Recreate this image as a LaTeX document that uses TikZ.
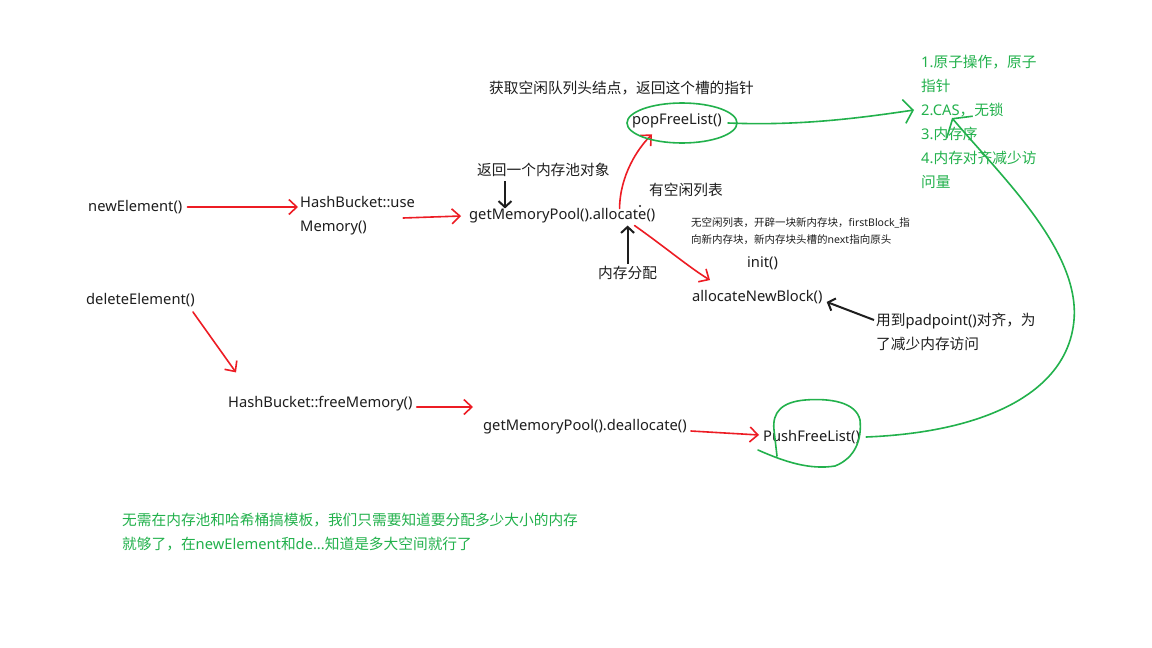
\documentclass[tikz,border=0pt]{standalone}
\usepackage{fontspec}
\setmainfont{Noto Sans}
\newfontfamily\cjk{Noto Sans CJK SC}
\usetikzlibrary{arrows.meta}
\definecolor{ink}{RGB}{30,30,30}
\definecolor{paintred}{RGB}{237,28,36}
\definecolor{paintgreen}{RGB}{34,177,76}
\newcommand{\zh}[1]{{\cjk #1}}

\begin{document}
\begin{tikzpicture}[x=1pt, y=-1pt,
    lbl/.style={anchor=west, inner sep=2pt, text=ink, align=left, font=\fontsize{14.7}{24}\selectfont},
    note/.style={lbl, font=\fontsize{10.5}{17}\selectfont},
    gnote/.style={lbl, text=paintgreen},
    redarr/.style={paintred, line width=1.6pt, line cap=round, -{Straight Barb[length=8pt, width=15pt]}},
    blkarr/.style={ink, line width=2pt, -{Straight Barb[length=6pt, width=13pt]}},
    grn/.style={paintgreen, line width=1.6pt, line cap=round}]
    \fill[white] (0,0) rectangle (1152,648);
    \useasboundingbox (0,0) rectangle (1152,648);

    % allocation side
    \node[lbl] (getfree) at (487,88) {\zh{获取空闲队列头结点，返回这个槽的指针}};
    \node[lbl] (pop) at (630,121) {popFreeList()};
    \node[lbl] (retpool) at (475,170) {\zh{返回一个内存池对象}};
    \node[lbl] (newel) at (86,207) {newElement()};
    \node[lbl] (hbuse) at (298,216) {HashBucket::use\\Memory()};
    \node[lbl] (alloc) at (467,216) {getMemoryPool().allocate()};
    \node[lbl] (hasfree) at (647,190) {\zh{有空闲列表}};
    \node[lbl] (memalloc) at (596,273) {\zh{内存分配}};
    \node[note] (nofree) at (689,231) {\zh{无空闲列表，开辟一块新内存块，}firstBlock\_\zh{指}\\\zh{向新内存块，新内存块头槽的}next\zh{指向原头}};
    \node[lbl] (init) at (745,263) {init()};
    \node[lbl] (newblock) at (690,297) {allocateNewBlock()};
    \node[lbl] (padnote) at (874,332) {\zh{用到}padpoint()\zh{对齐，为}\\\zh{了减少内存访问}};

    % free side
    \node[lbl] (delel) at (84,300) {deleteElement()};
    \node[lbl] (hbfree) at (226,404) {HashBucket::freeMemory()};
    \node[lbl] (dealloc) at (481,427) {getMemoryPool().deallocate()};
    \node[lbl] (push) at (761,437) {PushFreeList()};

    % green notes
    \node[gnote] (atomic) at (919,122) {1.\zh{原子操作，原子}\\\zh{指针}\\2.CAS\zh{，无锁}\\3.\zh{内存序}\\4.\zh{内存对齐减少访}\\\zh{问量}};
    \node[gnote] (tip) at (120,532) {\zh{无需在内存池和哈希桶搞模板，我们只需要知道要分配多少大小的内存}\\\zh{就够了，在}newElement\zh{和}de...\zh{知道是多大空间就行了}};
    \coordinate (cas) at (952,118);

    % red calls
    \draw[redarr] ([xshift=3pt]newel.east) -- (newel.east -| hbuse.west);
    \draw[redarr] ([xshift=-14pt,yshift=-2pt]hbuse.east) -- ([xshift=-6pt]alloc.west);
    \draw[redarr] ([xshift=-38pt,yshift=-2pt]alloc.north east) .. controls (620,175) and (638,148) .. ([xshift=-25pt,yshift=-4pt]pop.south);
    \draw[redarr] ([xshift=-23pt]alloc.south east) .. controls (665,247) and (690,268) .. ([xshift=20pt,yshift=8pt]newblock.north west);
    \draw[redarr] ([xshift=-4pt,yshift=-3pt]delel.south east) -- ([xshift=10pt,yshift=22pt]hbfree.north west);
    \draw[redarr, shorten >=8pt] ([xshift=2pt,yshift=-3pt]hbfree.east) -- ([yshift=-3pt]hbfree.east -| dealloc.west);
    \draw[redarr] ([xshift=2pt,yshift=-4pt]dealloc.east) -- ([xshift=-2pt,yshift=2pt]push.west);

    % black hints
    \draw[blkarr] ([xshift=30pt,yshift=-2pt]retpool.south west) -- ([xshift=38pt,yshift=-2pt]alloc.north west);
    \draw[blkarr] (memalloc.north) -- (memalloc.north |- alloc.south);
    \draw[blkarr] ([yshift=12pt]padnote.west) -- ([xshift=2pt,yshift=4pt]newblock.south east);
    \fill[ink] (640,206) circle (1.2);

    % green loops and links
    \draw[grn] (682,123) ellipse (55 and 20);
    \draw[grn] (758,450) .. controls (785,462) and (810,470) .. (835,466)
        .. controls (855,458) and (862,440) .. (860,420)
        .. controls (856,402) and (830,398) .. (805,400)
        .. controls (782,402) and (772,412) .. (774,430)
        -- (777,456);
    \draw[grn, -{Straight Barb[length=9pt, width=24pt]}] ([xshift=4pt,yshift=-2pt]pop.east) .. controls (800,126) and (860,118) .. ([xshift=-5pt,yshift=12pt]atomic.west);
    \draw[grn, -{Straight Barb[length=11pt, width=34pt]}] ([xshift=4pt]push.east) .. controls (990,432) and (1068,390) .. (1074,320)
        .. controls (1080,250) and (1000,175) .. (cas);
\end{tikzpicture}
\end{document}
